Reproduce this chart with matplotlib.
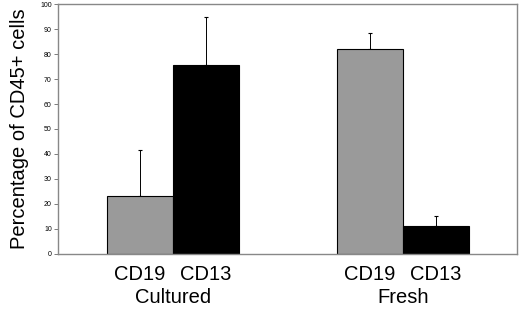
import numpy as np
import matplotlib.pyplot as plt

plt.rcParams['font.family'] = ['Liberation Sans', 'DejaVu Sans']

groups = ['Cultured', 'Fresh']
markers = ['CD19', 'CD13']
means = [23, 75.5, 82, 11]
upper = [41.5, 95, 88.5, 15]
colors = ['#9a9a9a', '#000000', '#9a9a9a', '#000000']

x = np.array([0, 1, 3.48, 4.48])
err = np.array(upper) - np.array(means)

fig = plt.figure(figsize=(5.2, 3.15), dpi=100)
ax = fig.add_axes([0.1115, 0.194, 0.883, 0.793])

ax.bar(x, means, width=1.0, color=colors, edgecolor='black', linewidth=0.8, zorder=2)
ax.errorbar(x, means, yerr=[np.zeros(len(err)), err], fmt='none', ecolor='black',
            elinewidth=0.7, capsize=1.5, capthick=0.8, zorder=1)

ax.set_xlim(-1.24, 5.71)
ax.set_ylim(0, 100)
ax.set_yticks(np.arange(0, 101, 10))
ax.tick_params(axis='y', labelsize=5, length=3, width=0.6, color='#666666', pad=1.5)
ax.set_xticks([])
for s in ax.spines.values():
    s.set_color('#888888')
    s.set_linewidth(1.0)

ax.set_ylabel('Percentage of CD45+ cells', fontsize=14.5, labelpad=8)

for i, xi in enumerate(x):
    ax.text(xi, -8.3, markers[i % 2], ha='center', va='center', fontsize=14.5,
            clip_on=False)
for g, gi in enumerate(groups):
    xc = (x[2 * g] + x[2 * g + 1]) / 2
    ax.text(xc, -17.6, gi, ha='center', va='center', fontsize=14.5, clip_on=False)

fig.savefig('out.png', dpi=100)
